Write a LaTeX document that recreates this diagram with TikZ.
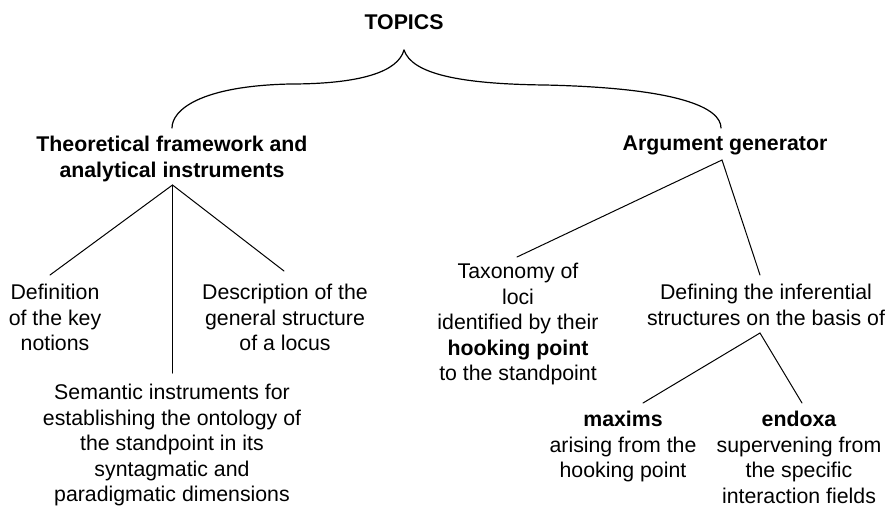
\documentclass[tikz,border=0pt]{standalone}
\usepackage{fontspec}
\setmainfont{Liberation Sans}
\begin{document}
\begin{tikzpicture}[x=1pt,y=-1pt,
  txt/.style={font=\fontsize{21.3}{25.5}\selectfont, align=center, inner sep=0pt, anchor=north},
  conn/.style={line width=1pt, line cap=round},
  brace/.style={line width=1.2pt, line cap=round}]
\useasboundingbox[fill=white] (0,0) rectangle (896,507);
% nodes
\node[txt] (topics) at (404,14) {\textbf{TOPICS}};
\node[txt] (theo) at (172,136) {\textbf{Theoretical framework and}\\\textbf{analytical instruments}};
\node[txt] (arg) at (725,136) {\textbf{Argument generator}};
\node[txt] (def) at (55,284) {Definition\\of the key\\notions};
\node[txt] (desc) at (285,284) {Description of the\\general structure\\of a locus};
\node[txt] (sem) at (172,384) {Semantic instruments for\\establishing the ontology of\\the standpoint in its\\syntagmatic and\\paradigmatic dimensions};
\node[txt] (tax) at (518,263) {Taxonomy of\\loci\\identified by their\\\textbf{hooking point}\\to the standpoint};
\node[txt] (defn) at (766,284) {Defining the inferential\\structures on the basis of};
\node[txt] (max) at (623,411) {\textbf{maxims}\\arising from the\\hooking point};
\node[txt] (endo) at (799,411) {\textbf{endoxa}\\supervening from\\the specific\\interaction fields};
% connector end points
\coordinate (tip) at (404,50);
\coordinate (theoT) at (172,128);
\coordinate (argT) at (721,128);
\coordinate (theoB) at (172.5,185);
\coordinate (defT) at (50,275);
\coordinate (semT) at (172.5,373);
\coordinate (descT) at (284,271);
\coordinate (argB) at (722,160);
\coordinate (taxT) at (517,257);
\coordinate (defnT) at (760,275);
\coordinate (defnB) at (760,333);
\coordinate (maxT) at (643,403);
\coordinate (endoT) at (802,403);
% brace
\draw[brace] (tip) .. controls (398,72) and (360,84) .. (290,84) .. controls (200,86) and (172,110) .. (theoT);
\draw[brace] (tip) .. controls (412,74) and (460,84) .. (545,85) .. controls (680,88) and (721,108) .. (argT);
% connectors
\draw[conn] (defT) -- (theoB) -- (descT);
\draw[conn] (theoB) -- (semT);
\draw[conn] (taxT) -- (argB) -- (defnT);
\draw[conn] (maxT) -- (defnB) -- (endoT);
\end{tikzpicture}
\end{document}
